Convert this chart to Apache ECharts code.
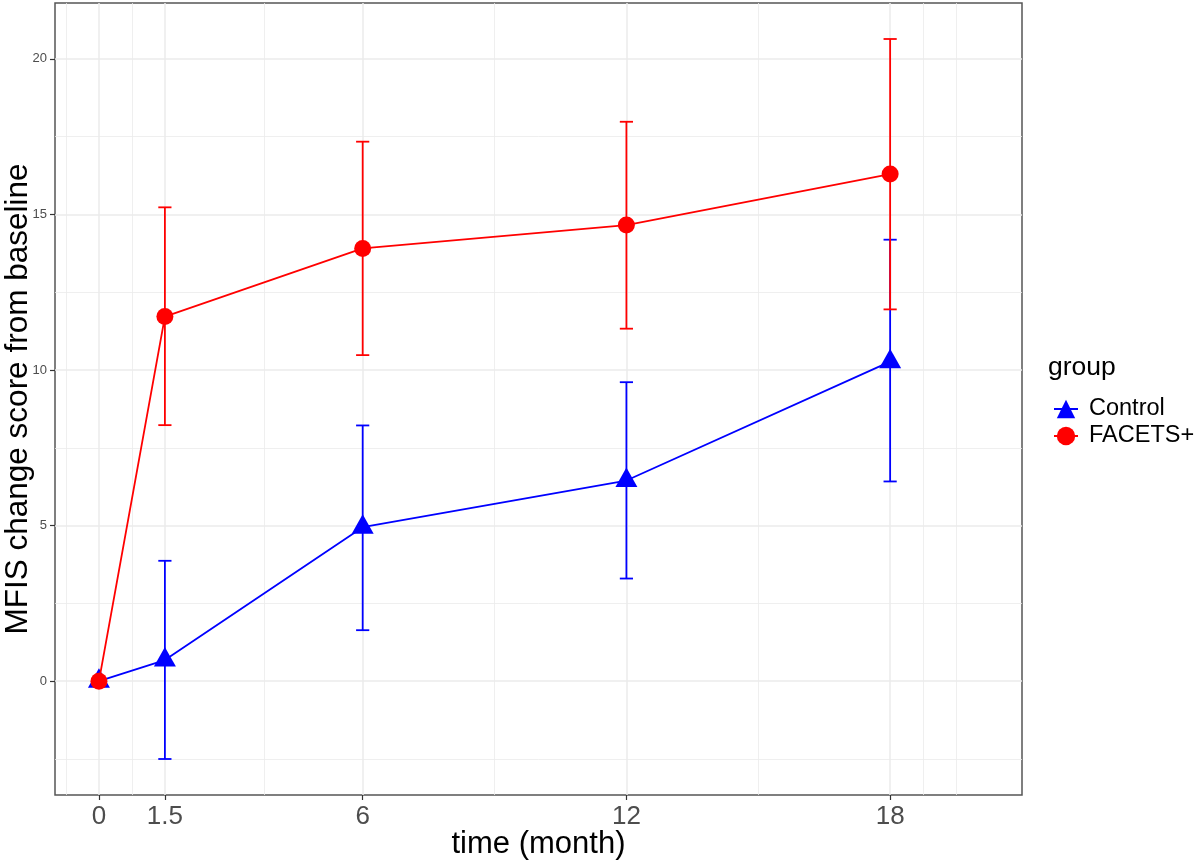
<!DOCTYPE html>
<html>
<head>
<meta charset="utf-8">
<script src="https://cdn.jsdelivr.net/npm/echarts@6/dist/echarts.min.js"></script>
<style>
html,body{margin:0;padding:0;background:#fff;}
#chart{width:1200px;height:863px;}
</style>
</head>
<body>
<div id="chart"></div>
<script>
// ---- data ----
const months = [0, 1.5, 6, 12, 18];
const controlMean = [0, 0.68, 4.95, 6.45, 10.27];
const controlLow  = [0, -2.5, 1.64, 3.3, 6.42];
const controlHigh = [0, 3.87, 8.22, 9.61, 14.19];
const facetsMean = [0, 11.72, 13.91, 14.66, 16.3];
const facetsLow  = [0, 8.23, 10.48, 11.33, 11.95];
const facetsHigh = [0, 15.23, 17.34, 17.98, 20.64];

const xTicks = [0, 1.5, 6, 12, 18];
const xMinorGrid = [-0.75, 0.75, 3.75, 9, 15, 18.75, 19.5];
const yTicks = [0, 5, 10, 15, 20];
const yMinorGrid = [-2.5, 2.5, 7.5, 12.5, 17.5];

const FONT = '"Liberation Sans", Arial, sans-serif';
const CAP_HALF = 0.15; // errorbar cap half-width in months

function pairs(xs, ys){ return xs.map((x,i)=>[x, ys[i]]); }
function errData(xs, lo, hi){ return xs.map((x,i)=>[x, lo[i], hi[i]]); }

function errRender(color){
  return function(params, api){
    const x = api.value(0), lo = api.value(1), hi = api.value(2);
    const pLo = api.coord([x, lo]);
    const pHi = api.coord([x, hi]);
    const l = api.coord([x - CAP_HALF, lo])[0];
    const r = api.coord([x + CAP_HALF, lo])[0];
    const st = {stroke: color, lineWidth: 1.8, fill: null};
    return {type:'group', children:[
      {type:'line', shape:{x1:pLo[0], y1:pLo[1], x2:pHi[0], y2:pHi[1]}, style:st},
      {type:'line', shape:{x1:l, y1:pLo[1], x2:r, y2:pLo[1]}, style:st},
      {type:'line', shape:{x1:l, y1:pHi[1], x2:r, y2:pHi[1]}, style:st}
    ]};
  };
}

const gridLines = [];
xTicks.forEach(v=>gridLines.push({xAxis:v, lineStyle:{width:1.5}}));
xMinorGrid.forEach(v=>gridLines.push({xAxis:v, lineStyle:{width:0.8}}));
yTicks.forEach(v=>gridLines.push({yAxis:v, lineStyle:{width:1.5}}));
yMinorGrid.forEach(v=>gridLines.push({yAxis:v, lineStyle:{width:0.8}}));

const chart = echarts.init(document.getElementById('chart'), null, {renderer:'canvas'});
chart.setOption({
  animation:false,
  backgroundColor:'#ffffff',
  textStyle:{fontFamily:FONT},
  grid:{left:55, right:178, top:3, bottom:68, show:true, borderColor:'#555555', borderWidth:1.5,
    backgroundColor:'transparent', containLabel:false, outerBoundsMode:'none'},
  xAxis:{
    type:'value', min:-1, max:21,
    name:'time (month)', nameLocation:'middle', nameGap:34, nameMoveOverlap:false,
    nameTextStyle:{fontSize:31, color:'#000', fontFamily:FONT},
    axisLine:{show:false, onZero:false},
    axisTick:{show:true, length:5, lineStyle:{color:'#333', width:1.2}, customValues:xTicks},
    axisLabel:{fontSize:26, color:'#4d4d4d', margin:9, fontFamily:FONT, customValues:xTicks,
      formatter:v=>String(v)},
    splitLine:{show:false}
  },
  yAxis:{
    type:'value', min:-3.657, max:21.797,
    name:'MFIS change score from baseline', nameLocation:'middle', nameGap:21, nameRotate:90, nameMoveOverlap:false,
    nameTextStyle:{fontSize:31.5, color:'#000', fontFamily:FONT},
    axisLine:{show:false, onZero:false},
    axisTick:{show:true, length:5, lineStyle:{color:'#333', width:1.2}, customValues:yTicks},
    axisLabel:{fontSize:13, color:'#4d4d4d', margin:8, fontFamily:FONT, customValues:yTicks,
      formatter:v=>String(v)},
    splitLine:{show:false}
  },
  legend:{
    data:['Control','FACETS+'], orient:'vertical', left:1048, top:392, itemGap:3,
    itemWidth:24, itemHeight:23,
    textStyle:{fontSize:23.5, color:'#000', fontFamily:FONT, padding:[0,0,0,6]}
  },
  graphic:[{type:'text', x:1048, y:368, style:{text:'group', fontSize:26.5, fill:'#000', font:'26.5px "Liberation Sans", Arial, sans-serif', verticalAlign:'middle'}}],
  series:[
    {type:'line', name:'grid', data:[], silent:true, z:0,
      markLine:{silent:true, z:0, symbol:'none', label:{show:false}, animation:false,
        lineStyle:{color:'#ebebeb', type:'solid'}, emphasis:{disabled:true}, data:gridLines}},
    {type:'custom', name:'Control error', renderItem:errRender('#0000ff'), data:errData(months, controlLow, controlHigh), z:3, silent:true},
    {type:'line', name:'Control', data:pairs(months, controlMean), color:'#0000ff',
      lineStyle:{width:1.8, color:'#0000ff'}, symbol:'triangle', symbolSize:[22,19.5], symbolOffset:[0,-3.25],
      itemStyle:{color:'#0000ff'}, z:4, silent:true},
    {type:'custom', name:'FACETS+ error', renderItem:errRender('#ff0000'), data:errData(months, facetsLow, facetsHigh), z:5, silent:true},
    {type:'line', name:'FACETS+', data:pairs(months, facetsMean), color:'#ff0000',
      lineStyle:{width:1.8, color:'#ff0000'}, symbol:'circle', symbolSize:17,
      itemStyle:{color:'#ff0000'}, z:6, silent:true}
  ]
});
</script>
</body>
</html>
